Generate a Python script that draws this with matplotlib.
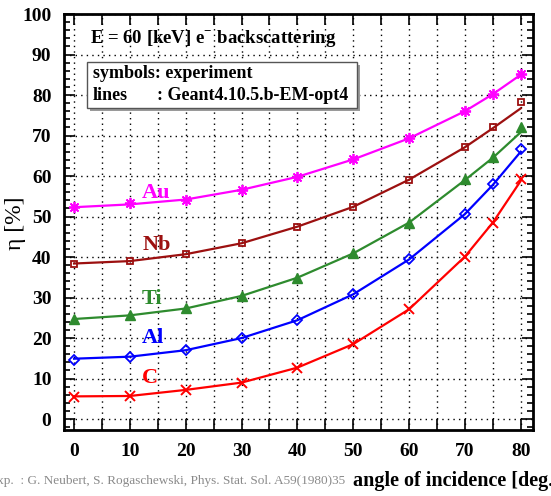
import numpy as np
import matplotlib.pyplot as plt
from matplotlib.patches import Rectangle
from matplotlib.ticker import MultipleLocator

plt.rcParams["font.family"] = ["Liberation Serif", "DejaVu Serif"]
plt.rcParams["mathtext.fontset"] = "custom"
plt.rcParams["mathtext.rm"] = "Liberation Serif:bold"
plt.rcParams["mathtext.bf"] = "Liberation Serif:bold"

# incidence angles [deg]
angles = [0, 10, 20, 30, 40, 50, 60, 70, 75, 80]

# measured backscattering coefficient [%]
exp_au = [52.3, 53.3, 54.2, 56.6, 59.8, 64.1, 69.3, 76.0, 80.2, 85.2]
exp_nb = [38.4, 39.0, 40.7, 43.4, 47.5, 52.4, 59.1, 67.1, 72.2, 78.3]
exp_ti = [24.7, 25.7, 27.3, 30.4, 34.9, 40.9, 48.5, 59.2, 64.8, 72.0]
exp_al = [14.7, 15.4, 17.0, 20.0, 24.4, 30.8, 39.4, 50.6, 58.0, 66.7]
exp_c = [5.5, 5.7, 7.2, 9.0, 12.7, 18.5, 27.1, 40.1, 48.5, 59.2]

# Geant4 simulation
sim_au = [52.3, 53.0, 54.2, 56.6, 59.8, 64.1, 69.3, 76.0, 80.2, 85.0]
sim_nb = [38.4, 39.0, 40.7, 43.4, 47.5, 52.4, 59.1, 67.1, 71.8, 76.7]
sim_ti = [24.7, 25.6, 27.3, 30.4, 34.9, 40.9, 48.5, 59.0, 64.5, 70.8]
sim_al = [14.9, 15.4, 17.0, 20.0, 24.4, 30.8, 39.4, 50.6, 57.8, 66.0]
sim_c = [5.6, 5.7, 7.2, 9.0, 12.7, 18.5, 27.1, 40.1, 48.5, 58.8]

materials = ["Au", "Nb", "Ti", "Al", "C"]
label_y = [55.8, 43.0, 29.7, 20.0, 10.1]

series = [
    (exp_au, sim_au, "#ff00ff", dict(marker=(8, 2, 0), ms=8, mew=1.3)),
    (exp_nb, sim_nb, "#9c1010", dict(marker="s", ms=5, mfc="none", mew=1.3)),
    (exp_ti, sim_ti, "#2e8b2e", dict(marker="^", ms=7)),
    (exp_al, sim_al, "#0000ff", dict(marker="D", ms=5.5, mfc="none", mew=1.3)),
    (exp_c, sim_c, "#ff0000", dict(marker="x", ms=6.5, mew=1.4)),
]

fig = plt.figure(figsize=(5.51, 4.96), dpi=100)
ax = fig.add_axes([64 / 551, 1 - 430 / 496, 469 / 551, 416 / 496])

for (ye, ys, col, mk), name, ly in zip(series, materials, label_y):
    ax.plot(angles, ys, color=col, lw=1.6, zorder=3)
    ax.plot(angles, ye, ls="none", color=col, zorder=4, **mk)
    ax.text(12.2, ly, name, color=col, fontsize=16, fontweight="bold",
            ha="left", va="center", zorder=5)

ax.set_xlim(-1.8, 82.2)
ax.set_ylim(-2.7, 100)
ax.xaxis.set_major_locator(MultipleLocator(10))
ax.xaxis.set_minor_locator(MultipleLocator(5))
ax.yaxis.set_major_locator(MultipleLocator(10))
ax.yaxis.set_minor_locator(MultipleLocator(2))
ax.tick_params(which="both", direction="in", top=True, right=True, width=1.2)
ax.tick_params(which="major", length=8, labelsize=14, pad=9)
ax.tick_params(axis="x", which="minor", length=8)
ax.tick_params(axis="y", which="minor", length=4)
for lab in ax.get_xticklabels() + ax.get_yticklabels():
    lab.set_fontweight("bold")
for sp in ax.spines.values():
    sp.set_linewidth(2)

ax.grid(True, axis="x", which="both", color="black", ls=(0, (1, 3)), lw=1)
ax.grid(True, axis="y", which="major", color="black", ls=(0, (1, 3)), lw=1)
ax.set_axisbelow(True)

ax.text(0.055, 0.942, r"E = 60 [keV] e$^{-}$ backscattering", transform=ax.transAxes,
        fontsize=13.5, fontweight="bold", ha="left", va="center")

# info box with drop shadow
bx, by, bw, bh = 0.049, 0.774, 0.576, 0.111
ax.add_patch(Rectangle((bx + 0.007, by - 0.008), bw, bh, transform=ax.transAxes,
                       facecolor="#9a9a9a", edgecolor="none", zorder=6))
ax.add_patch(Rectangle((bx, by), bw, bh, transform=ax.transAxes,
                       facecolor="white", edgecolor="#555555", lw=1, zorder=7))
ax.text(0.062, 0.857, "symbols: experiment", transform=ax.transAxes,
        fontsize=13, fontweight="bold", va="center", zorder=8)
ax.text(0.062, 0.803, "lines", transform=ax.transAxes,
        fontsize=13, fontweight="bold", va="center", zorder=8)
ax.text(0.198, 0.803, ": Geant4.10.5.b-EM-opt4", transform=ax.transAxes,
        fontsize=13, fontweight="bold", va="center", zorder=8)

fig.text(15 / 551, 1 - 223 / 496, "η [%]", rotation=90, fontsize=17,
         ha="center", va="center")
fig.text(353 / 551, 1 - 481 / 496, "angle of incidence [deg.]", fontsize=14.5,
         fontweight="bold", ha="left", va="center")
fig.text(345 / 551, 1 - 481 / 496,
         "Exp.  : G. Neubert, S. Rogaschewski, Phys. Stat. Sol. A59(1980)35",
         fontsize=9.5, color="#8a8a8a", ha="right", va="center")

fig.savefig("out.png", dpi=100)
